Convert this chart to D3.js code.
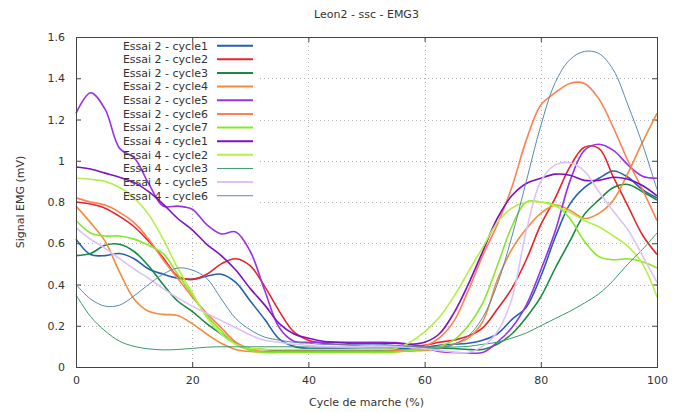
<!DOCTYPE html>
<html><head><meta charset="utf-8">
<script src="https://cdn.jsdelivr.net/npm/d3@7/dist/d3.min.js"></script>
<style>body{margin:0;background:#fff}svg text{font-family:"DejaVu Sans",sans-serif;}</style>
</head><body><svg id="chart" width="686" height="412"></svg>
<script>
// ---- data ----
const cyclePct = [0,2.5,5,7.5,10,12.5,15,17.5,20,22.5,25,27.5,30,32.5,35,37.5,40,42.5,45,47.5,50,52.5,55,57.5,60,62.5,65,67.5,70,72.5,75,77.5,80,82.5,85,87.5,90,92.5,95,97.5,100];
const seriesNames = ["Essai 2 - cycle1","Essai 2 - cycle2","Essai 2 - cycle3","Essai 2 - cycle4","Essai 2 - cycle5","Essai 2 - cycle6","Essai 2 - cycle7","Essai 4 - cycle1","Essai 4 - cycle2","Essai 4 - cycle3","Essai 4 - cycle5","Essai 4 - cycle6"];
const e2c1 = [0.62,0.545,0.54,0.55,0.525,0.475,0.45,0.43,0.425,0.44,0.45,0.41,0.32,0.23,0.135,0.10,0.09,0.09,0.088,0.087,0.086,0.086,0.088,0.09,0.095,0.105,0.11,0.115,0.13,0.16,0.23,0.29,0.44,0.63,0.79,0.87,0.915,0.95,0.92,0.86,0.82];
const e2c2 = [0.80,0.79,0.77,0.73,0.68,0.61,0.53,0.44,0.425,0.45,0.50,0.525,0.49,0.39,0.27,0.17,0.13,0.115,0.11,0.105,0.10,0.10,0.10,0.10,0.105,0.12,0.13,0.15,0.19,0.28,0.38,0.52,0.69,0.82,0.97,1.065,1.06,0.92,0.78,0.64,0.545];
const e2c3 = [0.54,0.55,0.59,0.595,0.56,0.49,0.40,0.32,0.27,0.21,0.16,0.115,0.09,0.085,0.08,0.08,0.08,0.08,0.08,0.08,0.08,0.08,0.08,0.08,0.085,0.09,0.09,0.085,0.085,0.11,0.16,0.24,0.34,0.48,0.61,0.74,0.81,0.87,0.885,0.85,0.81];
const e2c4 = [0.78,0.70,0.61,0.46,0.33,0.27,0.255,0.25,0.21,0.16,0.115,0.085,0.075,0.075,0.075,0.075,0.075,0.075,0.075,0.075,0.075,0.075,0.075,0.078,0.08,0.09,0.11,0.14,0.22,0.42,0.57,0.67,0.745,0.785,0.76,0.72,0.745,0.81,0.94,1.09,1.23];
const e2c5 = [1.23,1.33,1.25,1.06,1.015,0.89,0.78,0.78,0.765,0.69,0.645,0.655,0.56,0.37,0.19,0.125,0.12,0.12,0.12,0.12,0.12,0.12,0.118,0.11,0.095,0.075,0.07,0.068,0.07,0.12,0.19,0.30,0.47,0.66,0.90,1.05,1.08,1.05,0.98,0.925,0.915];
const e2c6 = [0.82,0.80,0.785,0.75,0.70,0.62,0.52,0.43,0.34,0.26,0.19,0.12,0.085,0.075,0.075,0.075,0.075,0.075,0.075,0.075,0.075,0.075,0.078,0.085,0.10,0.14,0.22,0.37,0.54,0.69,0.87,1.10,1.27,1.33,1.375,1.375,1.30,1.16,1.0,0.86,0.71];
const e2c7 = [0.71,0.65,0.635,0.635,0.62,0.59,0.55,0.45,0.35,0.25,0.175,0.11,0.08,0.07,0.07,0.07,0.07,0.07,0.07,0.07,0.07,0.07,0.072,0.08,0.085,0.10,0.13,0.20,0.31,0.49,0.68,0.80,0.80,0.785,0.72,0.61,0.535,0.52,0.525,0.51,0.48];
const e4c1 = [0.97,0.96,0.94,0.92,0.895,0.85,0.79,0.72,0.665,0.595,0.54,0.47,0.38,0.30,0.21,0.16,0.14,0.125,0.12,0.115,0.115,0.115,0.115,0.11,0.12,0.16,0.26,0.40,0.56,0.72,0.83,0.89,0.915,0.935,0.93,0.905,0.905,0.92,0.91,0.88,0.83];
const e4c2 = [0.915,0.91,0.90,0.87,0.82,0.74,0.62,0.48,0.36,0.24,0.16,0.11,0.09,0.085,0.085,0.085,0.085,0.085,0.085,0.085,0.085,0.085,0.09,0.12,0.17,0.24,0.34,0.46,0.58,0.70,0.77,0.80,0.80,0.78,0.75,0.71,0.68,0.635,0.585,0.50,0.34];
const e4c3 = [0.35,0.245,0.175,0.125,0.10,0.088,0.083,0.085,0.09,0.096,0.098,0.098,0.098,0.098,0.098,0.098,0.097,0.097,0.097,0.097,0.097,0.097,0.097,0.097,0.097,0.097,0.097,0.10,0.11,0.12,0.14,0.165,0.20,0.235,0.27,0.31,0.355,0.42,0.50,0.57,0.65];
const e4c5 = [0.675,0.62,0.575,0.525,0.475,0.43,0.38,0.335,0.295,0.26,0.225,0.19,0.155,0.13,0.12,0.11,0.105,0.10,0.10,0.10,0.10,0.10,0.10,0.095,0.09,0.08,0.072,0.07,0.10,0.17,0.33,0.66,0.90,0.98,0.99,0.95,0.85,0.755,0.665,0.54,0.41];
const e4c6 = [0.40,0.33,0.295,0.30,0.345,0.40,0.45,0.48,0.47,0.43,0.33,0.235,0.18,0.145,0.13,0.12,0.115,0.11,0.11,0.11,0.11,0.11,0.105,0.10,0.095,0.09,0.11,0.15,0.24,0.40,0.63,0.90,1.17,1.38,1.49,1.53,1.52,1.44,1.27,1.08,0.86];
const xTicks = [0,20,40,60,80,100];
const yTicks = [0,0.2,0.4,0.6,0.8,1,1.2,1.4,1.6];

// ---- styling ----
const seriesValues = [e2c1,e2c2,e2c3,e2c4,e2c5,e2c6,e2c7,e4c1,e4c2,e4c3,e4c5,e4c6];
const colors = ["#2560b0","#e8242a","#178a42","#f58b3c","#9a32e6","#ff7f50","#86e82a","#8010c0","#b4f046","#3a9a6a","#dcc2f8","#5a88b0"];
const widths = [1.6,1.6,1.6,1.6,1.6,1.6,1.6,1.6,1.6,1,1.6,1];

const svg = d3.select("#chart");
const x = d3.scaleLinear().domain([0,100]).range([76,657]);
const y = d3.scaleLinear().domain([0,1.6]).range([367,37]);
const txt = "#333";

// grid
const grid = svg.append("g").attr("stroke","#b4b4b4").attr("stroke-dasharray","1,3").attr("stroke-width",1);
yTicks.slice(1,-1).forEach(t=>grid.append("line").attr("x1",x(0)).attr("x2",x(100)).attr("y1",Math.round(y(t))+0.5).attr("y2",Math.round(y(t))+0.5));
xTicks.slice(1,-1).forEach(t=>grid.append("line").attr("y1",y(0)).attr("y2",y(1.6)).attr("x1",Math.round(x(t))+0.5).attr("x2",Math.round(x(t))+0.5));

// opaque key box
svg.append("rect").attr("x",x(0)+1).attr("y",y(1.6)+1).attr("width",183).attr("height",168).attr("fill","#fff");

// axes
const ax = (g)=>{g.select(".domain").remove(); g.selectAll("line").attr("stroke","#444"); g.selectAll("text").attr("fill",txt).attr("font-size",11).attr("font-family","DejaVu Sans, sans-serif");};
svg.append("g").attr("transform",`translate(0,${y(0)})`).call(d3.axisBottom(x).tickValues(xTicks).tickSize(-5).tickPadding(9).tickFormat(d3.format("d"))).call(ax);
svg.append("g").attr("transform",`translate(0,${y(1.6)})`).call(d3.axisTop(x).tickValues(xTicks).tickSize(-5).tickFormat("")).call(ax);
svg.append("g").attr("transform",`translate(${x(0)},0)`).call(d3.axisLeft(y).tickValues(yTicks).tickSize(-5).tickPadding(11).tickFormat(d=>String(+d.toFixed(1)))).call(ax);
svg.append("g").attr("transform",`translate(${x(100)},0)`).call(d3.axisRight(y).tickValues(yTicks).tickSize(-5).tickFormat("")).call(ax);

// curves
const line = d3.line().x((d,i)=>x(cyclePct[i])).y(d=>y(d)).curve(d3.curveCatmullRom.alpha(0.5));
const plot = svg.append("g");
seriesValues.forEach((vals,k)=>{
  plot.append("path").datum(vals).attr("d",line).attr("fill","none").attr("stroke",colors[k]).attr("stroke-width",widths[k]).attr("stroke-linejoin","round");
});

// border
svg.append("rect").attr("x",x(0)+0.5).attr("y",y(1.6)+0.5).attr("width",x(100)-x(0)).attr("height",y(0)-y(1.6)).attr("fill","none").attr("stroke","#444").attr("stroke-width",1);

// legend
const leg = svg.append("g");
seriesNames.forEach((n,k)=>{
  const yy = 45.7 + k*13.64;
  leg.append("text").attr("x",208).attr("y",yy).attr("dy","0.35em").attr("text-anchor","end").attr("font-size",11).attr("fill",txt).text(n);
  leg.append("line").attr("x1",217).attr("x2",253).attr("y1",yy).attr("y2",yy).attr("stroke",colors[k]).attr("stroke-width",widths[k]===1?1:2);
});

// titles
svg.append("text").attr("x",(x(0)+x(100))/2).attr("y",14).attr("dy","0.35em").attr("text-anchor","middle").attr("font-size",11).attr("fill",txt).text("Leon2 - ssc - EMG3");
svg.append("text").attr("x",(x(0)+x(100))/2).attr("y",402).attr("dy","0.35em").attr("text-anchor","middle").attr("font-size",11).attr("fill",txt).text("Cycle de marche (%)");
svg.append("text").attr("transform",`translate(20,${(y(0)+y(1.6))/2}) rotate(-90)`).attr("dy","0.35em").attr("text-anchor","middle").attr("font-size",11).attr("fill",txt).text("Signal EMG (mV)");
</script></body></html>
